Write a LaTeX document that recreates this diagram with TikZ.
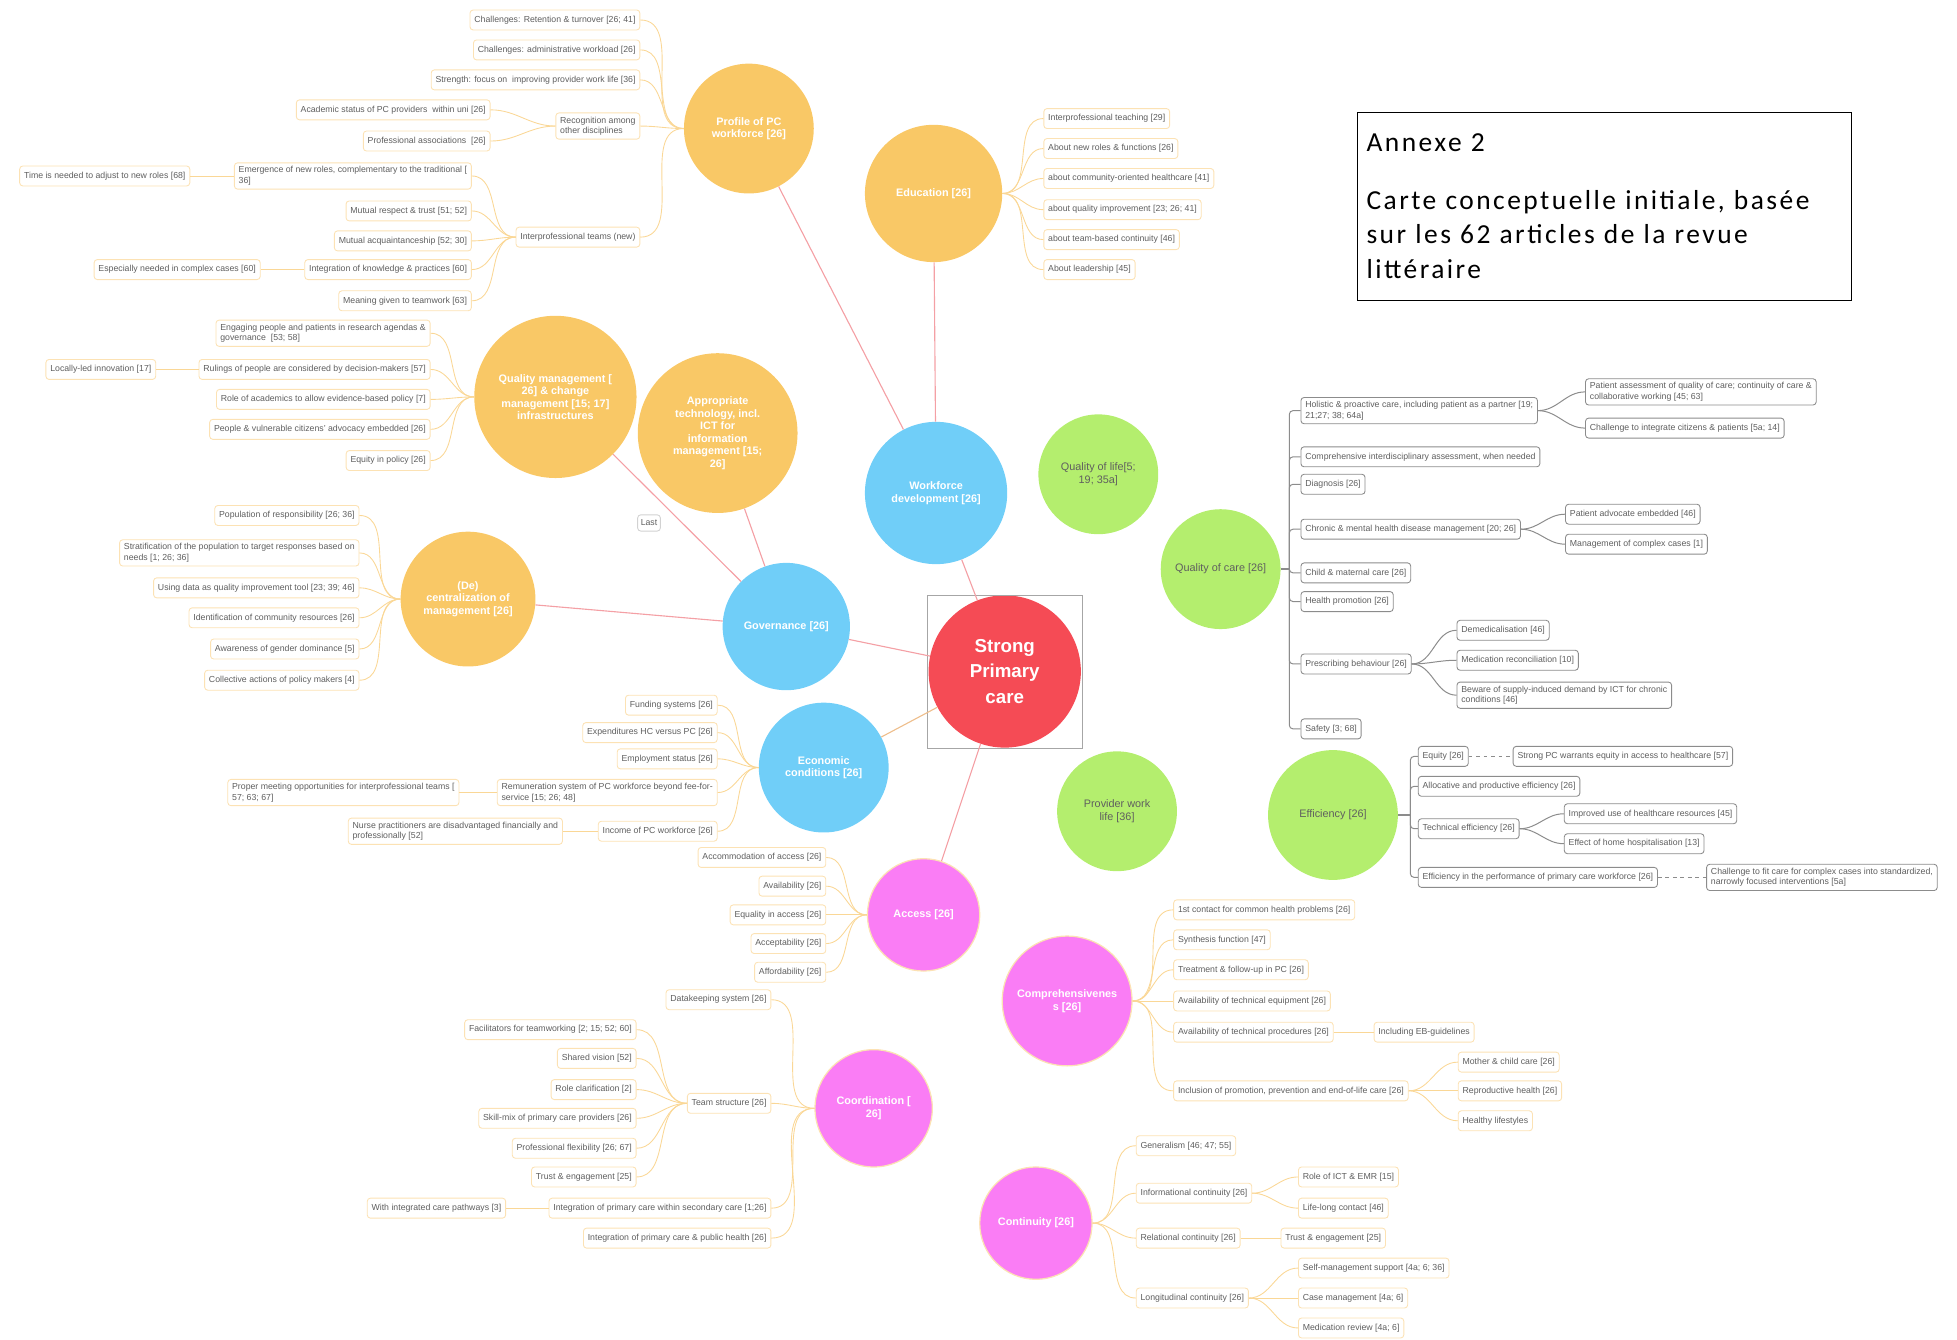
\documentclass[tikz,border=0pt]{standalone}
\usepackage{fontspec}
\setmainfont{Liberation Sans}
\newfontfamily\annexfont[LetterSpace=9]{Carlito}
\usetikzlibrary{positioning}

\definecolor{hubOrange}{RGB}{249,200,102}
\definecolor{hubBlue}{RGB}{112,206,248}
\definecolor{hubRed}{RGB}{245,75,85}
\definecolor{hubPink}{RGB}{250,125,245}
\definecolor{hubGreen}{RGB}{180,238,110}
\definecolor{linkRed}{RGB}{244,160,165}
\definecolor{linkTan}{RGB}{238,190,140}
\definecolor{leafDraw}{RGB}{252,226,180}
\definecolor{branchCol}{RGB}{250,215,150}
\definecolor{leafText}{RGB}{95,95,95}
\definecolor{gleafDraw}{RGB}{140,140,140}

\begin{document}
\begin{tikzpicture}[x=1pt, y=-1pt]
\tikzset{hub/.style={circle, inner sep=0pt, align=center, text=white, font=\bfseries\fontsize{8.7}{10}\selectfont},
		orangehub/.style={hub, fill=hubOrange},
		bluehub/.style={hub, fill=hubBlue},
		pinkhub/.style={hub, fill=hubPink, draw=leafDraw, line width=1pt},
		greenhub/.style={hub, fill=hubGreen, text=leafText, font=\fontsize{8.7}{10}\selectfont},
		leaf/.style={rectangle, rounded corners=2.5pt, draw=leafDraw, line width=0.7pt, fill=white, text=leafText, align=left, font=\fontsize{7}{8.5}\selectfont, inner xsep=3.5pt, inner ysep=3pt, minimum height=16pt},
		gleaf/.style={leaf, draw=gleafDraw},
		branch/.style={draw=branchCol, line width=0.7pt},
		gbranch/.style={draw=gleafDraw, line width=0.8pt},
		link/.style={draw=linkRed, line width=0.9pt}}
\useasboundingbox (0,0) rectangle (1568,1073);

% centre
\node[hub, fill=hubRed, minimum size=122pt, font=\bfseries\fontsize{15}{20.5}\selectfont] (Strong) at (805,538) {Strong\\ Primary\\ care};
\node[draw=gray!70, line width=0.8pt, minimum width=124pt, minimum height=123pt] (StrongFrame) at (805,538.5) {};

% main circles
\node[bluehub, minimum size=114pt] (WfDev) at (750,395) {Workforce\\ development [26]};
\node[bluehub, minimum size=102pt] (Gov) at (630,502) {Governance [26]};
\node[bluehub, minimum size=104pt] (Econ) at (660,615) {Economic\\ conditions [26]};
\node[pinkhub, minimum size=90pt] (Access) at (740,733) {Access [26]};
\node[pinkhub, minimum size=104pt] (Compr) at (855,802) {Comprehensivenes\\ s [26]};
\node[pinkhub, minimum size=94pt] (Coord) at (700,888) {Coordination [\\ 26]};
\node[pinkhub, minimum size=90pt] (Contin) at (830,980) {Continuity [26]};
\node[orangehub, minimum size=110pt] (Educ) at (748,155) {Education [26]};
\node[orangehub, minimum size=104pt] (Profile) at (600,103) {Profile of PC\\ workforce [26]};
\node[orangehub, minimum size=130pt] (QualMan) at (445,318) {Quality management [\\ 26] \& change\\ management [15; 17]\\ infrastructures};
\node[orangehub, minimum size=128pt] (ApprTech) at (575,347) {Appropriate\\ technology, incl.\\ ICT for\\ information\\ management [15;\\ 26]};
\node[orangehub, minimum size=108pt] (Decentr) at (375,480) {(De)\\ centralization of\\ management [26]};
\node[greenhub, minimum size=96pt] (QoL) at (880,380) {Quality of life[5;\\ 19; 35a]};
\node[greenhub, minimum size=96pt] (QoC) at (978,456) {Quality of care [26]};
\node[greenhub, minimum size=96pt] (ProvWL) at (895,650) {Provider work\\ life [36]};
\node[greenhub, minimum size=104pt] (Effic) at (1068,653) {Efficiency [26]};
\node[leaf, draw=gray!35, minimum height=13pt, inner xsep=2.5pt] (Last) at (520,419) {Last};

\draw[link] (Strong) -- (WfDev);
\draw[link] (Strong) -- (Gov);
\draw[link, draw=linkTan] (Strong) -- (Econ);
\draw[link] (Strong) -- (Access);
\draw[link] (WfDev) -- (Educ);
\draw[link] (WfDev) -- (Profile);
\draw[link] (Gov) -- (QualMan);
\draw[link] (Gov) -- (ApprTech);
\draw[link] (Gov) -- (Decentr);

% profile of PC workforce
\node[leaf, anchor=east] (RetTurn) at (513,16) {Challenges: Retention \& turnover [26; 41]};
\node[leaf, anchor=east] (AdmWork) at (513,40) {Challenges: administrative workload [26]};
\node[leaf, anchor=east] (WorkLife) at (513,64) {Strength: focus on\ \ improving provider work life [36]};
\node[leaf, anchor=east] (Recog) at (513,101) {Recognition among\\ other disciplines};
\node[leaf, anchor=east] (AcadStat) at (393,88) {Academic status of PC providers\ \ within uni [26]};
\node[leaf, anchor=east] (ProfAssoc) at (393,113) {Professional associations\ \ [26]};
\node[leaf, anchor=east] (IPTeams) at (513,190) {Interprofessional teams (new)};
\node[leaf, anchor=east] (NewRoles) at (378,141) {Emergence of new roles, complementary to the traditional [\\ 36]};
\node[leaf, left=35pt of NewRoles] (AdjTime) {Time is needed to adjust to new roles [68]};
\node[leaf, anchor=east] (MutResp) at (378,169) {Mutual respect \& trust [51; 52]};
\node[leaf, anchor=east] (MutAcq) at (378,193) {Mutual acquaintanceship [52; 30]};
\node[leaf, anchor=east] (IntKnow) at (378,216) {Integration of knowledge \& practices [60]};
\node[leaf, left=35pt of IntKnow] (Complex) {Especially needed in complex cases [60]};
\node[leaf, anchor=east] (Meaning) at (378,241) {Meaning given to teamwork [63]};
\draw[branch] (Profile.west) to[out=180, in=0] (RetTurn.east);
\draw[branch] (Profile.west) to[out=180, in=0] (AdmWork.east);
\draw[branch] (Profile.west) to[out=180, in=0] (WorkLife.east);
\draw[branch] (Profile.west) to[out=180, in=0] (Recog.east);
\draw[branch] (Profile.west) to[out=180, in=0] (IPTeams.east);
\draw[branch] (Recog.west) to[out=180, in=0] (AcadStat.east);
\draw[branch] (Recog.west) to[out=180, in=0] (ProfAssoc.east);
\draw[branch] (IPTeams.west) to[out=180, in=0] (NewRoles.east);
\draw[branch] (IPTeams.west) to[out=180, in=0] (MutResp.east);
\draw[branch] (IPTeams.west) to[out=180, in=0] (MutAcq.east);
\draw[branch] (IPTeams.west) to[out=180, in=0] (IntKnow.east);
\draw[branch] (IPTeams.west) to[out=180, in=0] (Meaning.east);
\draw[branch] (NewRoles) -- (AdjTime);
\draw[branch] (IntKnow) -- (Complex);

% education
\node[leaf, anchor=west] (IPTeach) at (836,95) {Interprofessional teaching [29]};
\node[leaf, anchor=west] (NewFunc) at (836,119) {About new roles \& functions [26]};
\node[leaf, anchor=west] (CommHC) at (836,143) {about community-oriented healthcare [41]};
\node[leaf, anchor=west] (QualImp) at (836,168) {about quality improvement [23; 26; 41]};
\node[leaf, anchor=west] (TeamCont) at (836,192) {about team-based continuity [46]};
\node[leaf, anchor=west] (Leader) at (836,216) {About leadership [45]};
\draw[branch] (Educ.east) to[out=0, in=180] (IPTeach.west);
\draw[branch] (Educ.east) to[out=0, in=180] (NewFunc.west);
\draw[branch] (Educ.east) to[out=0, in=180] (CommHC.west);
\draw[branch] (Educ.east) to[out=0, in=180] (QualImp.west);
\draw[branch] (Educ.east) to[out=0, in=180] (TeamCont.west);
\draw[branch] (Educ.east) to[out=0, in=180] (Leader.west);

% quality management
\node[leaf, anchor=east] (Engage) at (345,267) {Engaging people and patients in research agendas \&\\ governance\ \ [53; 58]};
\node[leaf, anchor=east] (Rulings) at (345,296) {Rulings of people are considered by decision-makers [57]};
\node[leaf, left=34pt of Rulings] (LocalInn) {Locally-led innovation [17]};
\node[leaf, anchor=east] (Academ) at (345,320) {Role of academics to allow evidence-based policy [7]};
\node[leaf, anchor=east] (Advocacy) at (345,344) {People \& vulnerable citizens' advocacy embedded [26]};
\node[leaf, anchor=east] (EqPolicy) at (345,369) {Equity in policy [26]};
\draw[branch] (QualMan.west) to[out=180, in=0] (Engage.east);
\draw[branch] (QualMan.west) to[out=180, in=0] (Rulings.east);
\draw[branch] (QualMan.west) to[out=180, in=0] (Academ.east);
\draw[branch] (QualMan.west) to[out=180, in=0] (Advocacy.east);
\draw[branch] (QualMan.west) to[out=180, in=0] (EqPolicy.east);
\draw[branch] (Rulings) -- (LocalInn);

% (de)centralization
\node[leaf, anchor=east] (PopResp) at (288,413) {Population of responsibility [26; 36]};
\node[leaf, anchor=east] (Stratif) at (288,443) {Stratification of the population to target responses based on\\ needs [1; 26; 36]};
\node[leaf, anchor=east] (DataTool) at (288,471) {Using data as quality improvement tool [23; 39; 46]};
\node[leaf, anchor=east] (CommRes) at (288,495) {Identification of community resources [26]};
\node[leaf, anchor=east] (Gender) at (288,520) {Awareness of gender dominance [5]};
\node[leaf, anchor=east] (Collect) at (288,545) {Collective actions of policy makers [4]};
\draw[branch] (Decentr.west) to[out=180, in=0] (PopResp.east);
\draw[branch] (Decentr.west) to[out=180, in=0] (Stratif.east);
\draw[branch] (Decentr.west) to[out=180, in=0] (DataTool.east);
\draw[branch] (Decentr.west) to[out=180, in=0] (CommRes.east);
\draw[branch] (Decentr.west) to[out=180, in=0] (Gender.east);
\draw[branch] (Decentr.west) to[out=180, in=0] (Collect.east);

% economic conditions
\node[leaf, anchor=east] (Funding) at (575,565) {Funding systems [26]};
\node[leaf, anchor=east] (Expend) at (575,587) {Expenditures HC versus PC [26]};
\node[leaf, anchor=east] (Employ) at (575,608) {Employment status [26]};
\node[leaf, anchor=east] (Remun) at (575,635) {Remuneration system of PC workforce beyond fee-for-\\ service [15; 26; 48]};
\node[leaf, left=30pt of Remun] (Meeting) {Proper meeting opportunities for interprofessional teams [\\ 57; 63; 67]};
\node[leaf, anchor=east] (Income) at (575,666) {Income of PC workforce [26]};
\node[leaf, left=28pt of Income] (Nurses) {Nurse practitioners are disadvantaged financially and\\ professionally [52]};
\draw[branch] (Econ.west) to[out=180, in=0] (Funding.east);
\draw[branch] (Econ.west) to[out=180, in=0] (Expend.east);
\draw[branch] (Econ.west) to[out=180, in=0] (Employ.east);
\draw[branch] (Econ.west) to[out=180, in=0] (Remun.east);
\draw[branch] (Econ.west) to[out=180, in=0] (Income.east);
\draw[branch] (Remun) -- (Meeting);
\draw[branch] (Income) -- (Nurses);

% access
\node[leaf, anchor=east] (Accom) at (662,687) {Accommodation of access [26]};
\node[leaf, anchor=east] (Avail) at (662,710) {Availability [26]};
\node[leaf, anchor=east] (EqAccess) at (662,733) {Equality in access [26]};
\node[leaf, anchor=east] (Accept) at (662,756) {Acceptability [26]};
\node[leaf, anchor=east] (Afford) at (662,779) {Affordability [26]};
\draw[branch] (Access.west) to[out=180, in=0] (Accom.east);
\draw[branch] (Access.west) to[out=180, in=0] (Avail.east);
\draw[branch] (Access.west) to[out=180, in=0] (EqAccess.east);
\draw[branch] (Access.west) to[out=180, in=0] (Accept.east);
\draw[branch] (Access.west) to[out=180, in=0] (Afford.east);

% coordination
\node[leaf, anchor=east] (DataKeep) at (618,801) {Datakeeping system [26]};
\node[leaf, anchor=east] (TeamStr) at (618,884) {Team structure [26]};
\node[leaf, anchor=east] (Facil) at (510,825) {Facilitators for teamworking [2; 15; 52; 60]};
\node[leaf, anchor=east] (Vision) at (510,848) {Shared vision [52]};
\node[leaf, anchor=east] (RoleClar) at (510,873) {Role clarification [2]};
\node[leaf, anchor=east] (SkillMix) at (510,896) {Skill-mix of primary care providers [26]};
\node[leaf, anchor=east] (Flexib) at (510,920) {Professional flexibility [26; 67]};
\node[leaf, anchor=east] (TrustTeam) at (510,943) {Trust \& engagement [25]};
\node[leaf, anchor=east] (IntSec) at (618,968) {Integration of primary care within secondary care [1;26]};
\node[leaf, left=34pt of IntSec] (Pathways) {With integrated care pathways [3]};
\node[leaf, anchor=east] (IntPub) at (618,992) {Integration of primary care \& public health [26]};
\draw[branch] (Coord.west) to[out=180, in=0] (DataKeep.east);
\draw[branch] (Coord.west) to[out=180, in=0] (TeamStr.east);
\draw[branch] (Coord.west) to[out=180, in=0] (IntSec.east);
\draw[branch] (Coord.west) to[out=180, in=0] (IntPub.east);
\draw[branch] (TeamStr.west) to[out=180, in=0] (Facil.east);
\draw[branch] (TeamStr.west) to[out=180, in=0] (Vision.east);
\draw[branch] (TeamStr.west) to[out=180, in=0] (RoleClar.east);
\draw[branch] (TeamStr.west) to[out=180, in=0] (SkillMix.east);
\draw[branch] (TeamStr.west) to[out=180, in=0] (Flexib.east);
\draw[branch] (TeamStr.west) to[out=180, in=0] (TrustTeam.east);
\draw[branch] (IntSec) -- (Pathways);

% comprehensiveness
\node[leaf, anchor=west] (FirstCon) at (940,729) {1st contact for common health problems [26]};
\node[leaf, anchor=west] (Synth) at (940,753) {Synthesis function [47]};
\node[leaf, anchor=west] (Treat) at (940,777) {Treatment \& follow-up in PC [26]};
\node[leaf, anchor=west] (TechEq) at (940,802) {Availability of technical equipment [26]};
\node[leaf, anchor=west] (TechProc) at (940,827) {Availability of technical procedures [26]};
\node[leaf, right=32pt of TechProc] (EBguide) {Including EB-guidelines};
\node[leaf, anchor=west] (Inclus) at (940,874) {Inclusion of promotion, prevention and end-of-life care [26]};
\node[leaf, anchor=west] (MotherCh) at (1168,851) {Mother \& child care [26]};
\node[leaf, anchor=west] (Reprod) at (1168,874) {Reproductive health [26]};
\node[leaf, anchor=west] (Lifestyle) at (1168,898) {Healthy lifestyles};
\draw[branch] (Compr.east) to[out=0, in=180] (FirstCon.west);
\draw[branch] (Compr.east) to[out=0, in=180] (Synth.west);
\draw[branch] (Compr.east) to[out=0, in=180] (Treat.west);
\draw[branch] (Compr.east) to[out=0, in=180] (TechEq.west);
\draw[branch] (Compr.east) to[out=0, in=180] (TechProc.west);
\draw[branch] (Compr.east) to[out=0, in=180] (Inclus.west);
\draw[branch] (TechProc) -- (EBguide);
\draw[branch] (Inclus.east) to[out=0, in=180] (MotherCh.west);
\draw[branch] (Inclus.east) to[out=0, in=180] (Reprod.west);
\draw[branch] (Inclus.east) to[out=0, in=180] (Lifestyle.west);

% continuity
\node[leaf, anchor=west] (General) at (910,918) {Generalism [46; 47; 55]};
\node[leaf, anchor=west] (InfoCont) at (910,956) {Informational continuity [26]};
\node[leaf, anchor=west] (ICTEMR) at (1040,943) {Role of ICT \& EMR [15]};
\node[leaf, anchor=west] (LifeLong) at (1040,968) {Life-long contact [46]};
\node[leaf, anchor=west] (RelCont) at (910,992) {Relational continuity [26]};
\node[leaf, right=32pt of RelCont] (TrustRel) {Trust \& engagement [25]};
\node[leaf, anchor=west] (LongCont) at (910,1040) {Longitudinal continuity [26]};
\node[leaf, anchor=west] (SelfMan) at (1040,1016) {Self-management support [4a; 6; 36]};
\node[leaf, anchor=west] (CaseMan) at (1040,1040) {Case management [4a; 6]};
\node[leaf, anchor=west] (MedRev) at (1040,1064) {Medication review [4a; 6]};
\draw[branch] (Contin.east) to[out=0, in=180] (General.west);
\draw[branch] (Contin.east) to[out=0, in=180] (InfoCont.west);
\draw[branch] (Contin.east) to[out=0, in=180] (RelCont.west);
\draw[branch] (Contin.east) to[out=0, in=180] (LongCont.west);
\draw[branch] (InfoCont.east) to[out=0, in=180] (ICTEMR.west);
\draw[branch] (InfoCont.east) to[out=0, in=180] (LifeLong.west);
\draw[branch] (RelCont) -- (TrustRel);
\draw[branch] (LongCont.east) to[out=0, in=180] (SelfMan.west);
\draw[branch] (LongCont.east) to[out=0, in=180] (CaseMan.west);
\draw[branch] (LongCont.east) to[out=0, in=180] (MedRev.west);

% quality of care
\coordinate (QoCspine) at (1033,456);
\node[gleaf, anchor=west] (Holistic) at (1042,329) {Holistic \& proactive care, including patient as a partner [19;\\ 21;27; 38; 64a]};
\node[gleaf, anchor=west] (PatAssess) at (1270,314) {Patient assessment of quality of care; continuity of care \&\\ collaborative working [45; 63]};
\node[gleaf, anchor=west] (Citizens) at (1270,343) {Challenge to integrate citizens \& patients [5a; 14]};
\node[gleaf, anchor=west] (Interdisc) at (1042,366) {Comprehensive interdisciplinary assessment, when needed};
\node[gleaf, anchor=west] (Diagn) at (1042,388) {Diagnosis [26]};
\node[gleaf, anchor=west] (Chronic) at (1042,424) {Chronic \& mental health disease management [20; 26]};
\node[gleaf, anchor=west] (PatAdv) at (1254,412) {Patient advocate embedded [46]};
\node[gleaf, anchor=west] (ComplexMan) at (1254,436) {Management of complex cases [1]};
\node[gleaf, anchor=west] (ChildMat) at (1042,459) {Child \& maternal care [26]};
\node[gleaf, anchor=west] (HealthProm) at (1042,482) {Health promotion [26]};
\node[gleaf, anchor=west] (Prescr) at (1042,532) {Prescribing behaviour [26]};
\node[gleaf, anchor=west] (Demed) at (1167,505) {Demedicalisation [46]};
\node[gleaf, anchor=west] (MedRec) at (1167,529) {Medication reconciliation [10]};
\node[gleaf, anchor=west] (Supply) at (1167,557) {Beware of supply-induced demand by ICT for chronic\\ conditions [46]};
\node[gleaf, anchor=west] (Safety) at (1042,584) {Safety [3; 68]};
\draw[gbranch, line width=1.2pt] (QoC.east) -- (QoCspine);
\draw[gbranch, rounded corners=3pt] (QoCspine) |- (Holistic.west);
\draw[gbranch, rounded corners=3pt] (QoCspine) |- (Interdisc.west);
\draw[gbranch, rounded corners=3pt] (QoCspine) |- (Diagn.west);
\draw[gbranch, rounded corners=3pt] (QoCspine) |- (Chronic.west);
\draw[gbranch, rounded corners=3pt] (QoCspine) |- (ChildMat.west);
\draw[gbranch, rounded corners=3pt] (QoCspine) |- (HealthProm.west);
\draw[gbranch, rounded corners=3pt] (QoCspine) |- (Prescr.west);
\draw[gbranch, rounded corners=3pt] (QoCspine) |- (Safety.west);
\draw[gbranch] (Holistic.east) to[out=0, in=180] (PatAssess.west);
\draw[gbranch] (Holistic.east) to[out=0, in=180] (Citizens.west);
\draw[gbranch] (Chronic.east) to[out=0, in=180] (PatAdv.west);
\draw[gbranch] (Chronic.east) to[out=0, in=180] (ComplexMan.west);
\draw[gbranch] (Prescr.east) to[out=0, in=180] (Demed.west);
\draw[gbranch] (Prescr.east) to[out=0, in=180] (MedRec.west);
\draw[gbranch] (Prescr.east) to[out=0, in=180] (Supply.west);

% efficiency
\coordinate (EffSpine) at (1130,653);
\node[gleaf, anchor=west] (EquityEff) at (1136,606) {Equity [26]};
\node[gleaf, anchor=west] (StrongPC) at (1212,606) {Strong PC warrants equity in access to healthcare [57]};
\node[gleaf, anchor=west] (Alloc) at (1136,630) {Allocative and productive efficiency [26]};
\node[gleaf, anchor=west] (TechEff) at (1136,664) {Technical efficiency [26]};
\node[gleaf, anchor=west] (Resources) at (1253,652) {Improved use of healthcare resources [45]};
\node[gleaf, anchor=west] (HomeHosp) at (1253,676) {Effect of home hospitalisation [13]};
\node[gleaf, anchor=west] (Perform) at (1136,703) {Efficiency in the performance of primary care workforce [26]};
\node[gleaf, anchor=west] (FitCare) at (1367,703) {Challenge to fit care for complex cases into standardized,\\ narrowly focused interventions [5a]};
\draw[gbranch, line width=1.2pt] (Effic.east) -- (EffSpine);
\draw[gbranch, rounded corners=3pt] (EffSpine) |- (EquityEff.west);
\draw[gbranch, rounded corners=3pt] (EffSpine) |- (Alloc.west);
\draw[gbranch, rounded corners=3pt] (EffSpine) |- (TechEff.west);
\draw[gbranch, rounded corners=3pt] (EffSpine) |- (Perform.west);
\draw[gbranch, dashed] (EquityEff) -- (StrongPC);
\draw[gbranch] (TechEff.east) to[out=0, in=180] (Resources.west);
\draw[gbranch] (TechEff.east) to[out=0, in=180] (HomeHosp.west);
\draw[gbranch, dashed] (Perform) -- (FitCare);

% annexe
\node[draw, line width=0.8pt, anchor=north west, text width=381pt, inner xsep=7.5pt, minimum height=150pt, align=left, font=\annexfont\fontsize{22}{28}\selectfont] (Annexe) at (1087,90) {Annexe 2\\[18pt] Carte conceptuelle initiale, basée\\ sur les 62 articles de la revue\\ littéraire};
\end{tikzpicture}
\end{document}
